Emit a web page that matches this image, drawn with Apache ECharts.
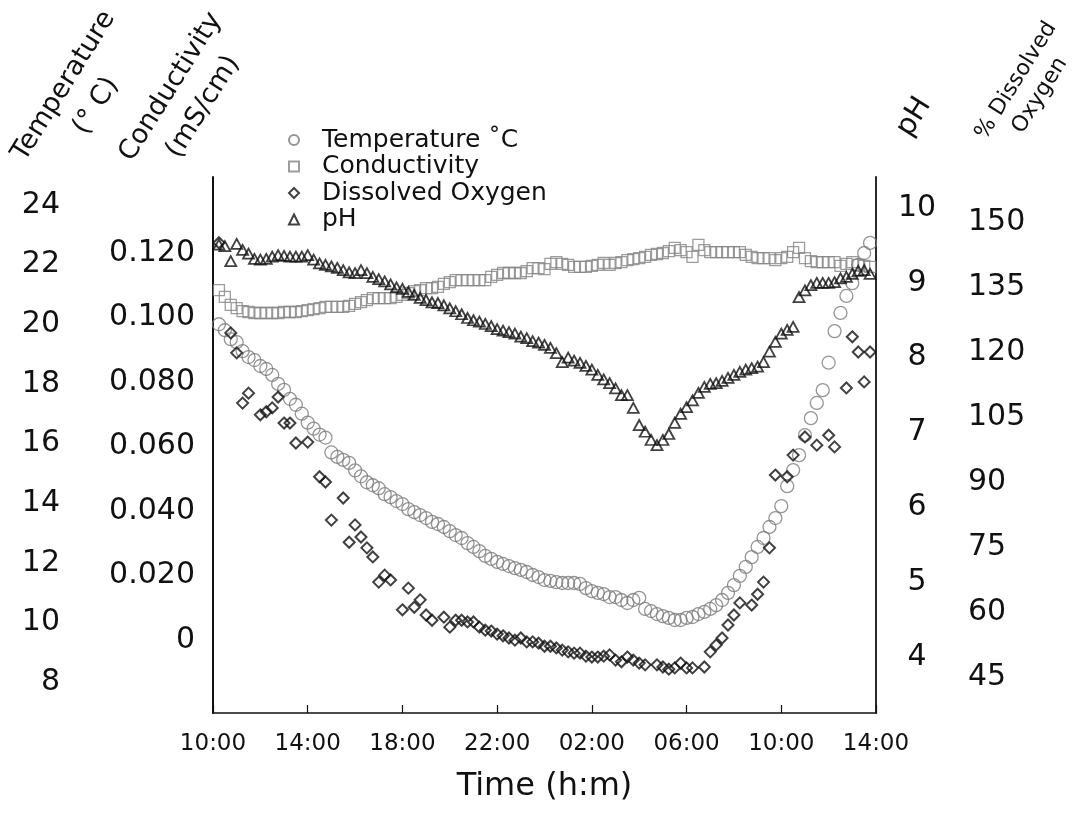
<!DOCTYPE html>
<html>
<head>
<meta charset="utf-8">
<script src="https://cdn.jsdelivr.net/npm/echarts@6/dist/echarts.min.js"></script>
<style>
html,body{margin:0;padding:0;background:#ffffff;}
#chart{width:1072px;height:818px;}
</style>
</head>
<body>
<div id="chart"></div>
<script>
// ---- data (hours after 10:00 on day 1) ----
const hours = [0.25,0.5,0.75,1,1.25,1.5,1.75,2,2.25,2.5,2.75,3,3.25,3.5,3.75,4,4.25,4.5,4.75,5,5.25,5.5,5.75,6,6.25,6.5,6.75,7,7.25,7.5,7.75,8,8.25,8.5,8.75,9,9.25,9.5,9.75,10,10.25,10.5,10.75,11,11.25,11.5,11.75,12,12.25,12.5,12.75,13,13.25,13.5,13.75,14,14.25,14.5,14.75,15,15.25,15.5,15.75,16,16.25,16.5,16.75,17,17.25,17.5,17.75,18,18.25,18.5,18.75,19,19.25,19.5,19.75,20,20.25,20.5,20.75,21,21.25,21.5,21.75,22,22.25,22.5,22.75,23,23.25,23.5,23.75,24,24.25,24.5,24.75,25,25.25,25.5,25.75,26,26.25,26.5,26.75,27,27.25,27.5,27.75];

const temperature = [
 20.0,19.8,19.5,19.4, 19.1,18.9,18.8,18.6, 18.5,18.3,18.0,17.8, 17.5,17.3,17.0,16.7,
 16.5,16.3,16.2,15.7, 15.55,15.45,15.35,15.1, 14.9,14.7,14.6,14.5, 14.3,14.2,14.07,13.97,
 13.8,13.7,13.6,13.5, 13.37,13.3,13.2,13.06, 12.93,12.83,12.66,12.53, 12.39,12.23,12.13,12.03,
 11.96,11.89,11.82,11.76, 11.69,11.59,11.52,11.42, 11.39,11.35,11.32,11.32, 11.32,11.29,11.15,11.05,
 10.99,10.95,10.85,10.85, 10.75,10.65,10.75,10.82, 10.45,10.38,10.28,10.21, 10.15,10.08,10.08,10.15,
 10.18,10.28,10.35,10.45, 10.58,10.75,10.99,11.25, 11.56,11.86,12.19,12.53, 12.83,13.2,13.5,13.9,
 14.57,15.11,15.61,16.28, 16.85,17.36,17.79,18.71, 19.77,20.38,20.95,21.38, 21.99,22.39,22.73
];

const conductivity = [
 0.1085,0.1064,0.1039,0.1029, 0.1020,0.1017,0.1014,0.1014, 0.1014,0.1014,0.1014,0.1017, 0.1017,0.1017,0.1020,0.1023,
 0.1026,0.1029,0.1033,0.1033, 0.1033,0.1033,0.1036,0.1042, 0.1048,0.1054,0.1060,0.1060, 0.1060,0.1060,0.1064,0.1070,
 0.1076,0.1082,0.1085,0.1091, 0.1091,0.1095,0.1104,0.1110, 0.1116,0.1116,0.1116,0.1116, 0.1116,0.1116,0.1126,0.1132,
 0.1138,0.1138,0.1138,0.1138, 0.1144,0.1153,0.1153,0.1150, 0.1166,0.1172,0.1166,0.1163, 0.1157,0.1157,0.1157,0.1160,
 0.1163,0.1169,0.1163,0.1169, 0.1172,0.1178,0.1181,0.1184, 0.1188,0.1194,0.1197,0.1200, 0.1206,0.1216,0.1209,0.1203,
 0.1188,0.1225,0.1209,0.1203, 0.1203,0.1203,0.1203,0.1203, 0.1203,0.1194,0.1188,0.1184, 0.1184,0.1184,0.1178,0.1184,
 0.1188,0.1203,0.1216,0.1184, 0.1175,0.1172,0.1172,0.1172, 0.1172,0.1160,0.1166,0.1172, 0.1163,0.1160,0.1157
];

const dissolvedOxygen = [
 145.2,null,124.4,119.8, 108.2,110.5,null,105.5, 106.2,107.1,109.6,103.6, 103.6,99.0,null,99.2,
 null,91.2,90.0,81.2, null,86.3,76.1,80.1, 77.3,74.8,72.7,66.9, 68.5,67.4,null,60.5,
 65.5,61.1,62.8,59.3, 58.1,null,58.8,56.5, 58.1,58.1,57.7,57.7, 56.5,55.8,55.6,54.9,
 54.5,54.0,53.5,54.0, 53.1,53.1,52.8,52.1, 52.1,51.7,51.2,50.8, 50.5,50.5,49.8,49.6,
 49.6,49.8,50.1,48.9, 48.5,49.6,48.9,48.2, 47.8,null,47.8,47.3, 46.8,47.1,48.2,47.1,
 47.1,null,47.3,50.8, 52.4,54.0,57.0,59.3, 62.1,null,61.6,64.1, 66.9,74.8,91.6,null,
 91.2,96.2,null,100.4, null,98.5,null,100.8, 98.1,null,111.7,123.5, 120.0,113.1,120.0
];

const pH = [
 9.51,9.49,9.29,9.52, 9.44,9.39,9.32,9.31, 9.32,9.35,9.37,9.36, 9.35,9.35,9.35,9.37,
 9.31,9.26,9.24,9.22, 9.20,9.17,9.14,9.13, 9.17,9.13,9.08,9.05, 9.02,8.98,8.94,8.92,
 8.88,8.84,8.80,8.77, 8.74,8.73,8.70,8.66, 8.62,8.58,8.53,8.50, 8.48,8.45,8.42,8.38,
 8.36,8.34,8.32,8.28, 8.26,8.22,8.20,8.17, 8.13,8.06,7.94,8.00, 7.96,7.93,7.89,7.84,
 7.77,7.71,7.66,7.59, 7.50,7.50,7.33,7.10, 7.01,6.90,6.83,6.90, 6.98,7.13,7.25,7.34,
 7.43,7.53,7.61,7.65, 7.66,7.69,7.73,7.77, 7.81,7.84,7.86,7.88, 7.94,8.08,8.21,8.32,
 8.37,8.41,8.81,8.90, 8.97,9.00,9.00,9.00, 9.01,9.06,9.08,9.12, 9.16,9.17,9.12
];

// ---- ticks ----
const xTickHours = [0,4,8,12,16,20,24,28];
const xTickLabels = ['10:00','14:00','18:00','22:00','02:00','06:00','10:00','14:00'];
const tempTicks = [8,10,12,14,16,18,20,22,24];
const condTicks = [0,0.02,0.04,0.06,0.08,0.1,0.12];
const pHTicks = [4,5,6,7,8,9,10];
const doTicks = [45,60,75,90,105,120,135,150];

const F = '"DejaVu Sans", "Liberation Sans", Arial, sans-serif';
const INK = '#111111';

function pairs(vals){
  const out = [];
  hours.forEach(function(h,i){ if (vals[i] != null) out.push([h, vals[i]]); });
  return out;
}

const chart = echarts.init(document.getElementById('chart'), null, {renderer:'canvas'});
const hiddenAxisPart = {axisTick:{show:false}, splitLine:{show:false}};

chart.setOption({
  animation:false,
  backgroundColor:'#ffffff',
  grid:{left:213, right:196, top:177, bottom:105, containLabel:false, outerBoundsMode:'none'},
  legend:{
    orient:'vertical', left:288, top:127, padding:0,
    itemWidth:10, itemHeight:10, itemGap:0.5,
    textStyle:{fontFamily:F, fontSize:25, color:INK, lineHeight:26, padding:[0,0,0,18]},
    data:['Temperature ˚C','Conductivity','Dissolved Oxygen','pH']
  },
  xAxis:{
    type:'value', min:0, max:28, interval:4,
    name:'Time (h:m)', nameLocation:'middle', nameGap:58,
    nameTextStyle:{fontFamily:F, fontSize:32, color:INK},
    axisLine:{onZero:false, lineStyle:{color:INK, width:1.6}},
    axisTick:{inside:true, length:8, lineStyle:{color:INK, width:1.2}},
    splitLine:{show:false},
    axisLabel:{margin:20, fontFamily:F, fontSize:23, color:INK,
      formatter:function(v){ const i = xTickHours.indexOf(v); return i >= 0 ? xTickLabels[i] : ''; }}
  },
  yAxis:[
    Object.assign({type:'value', position:'left', offset:0, min:6.96, max:24.94,
      axisLine:{show:true, onZero:false, lineStyle:{color:INK, width:2}},
      axisLabel:{customValues:tempTicks, margin:153, fontFamily:F, fontSize:30, color:INK}}, hiddenAxisPart),
    Object.assign({type:'value', position:'left', offset:0, min:-0.02264, max:0.14357,
      axisLine:{show:false, onZero:false},
      axisLabel:{customValues:condTicks, margin:18, fontFamily:F, fontSize:30, color:INK,
        formatter:function(v){ return v === 0 ? '0' : v.toFixed(3); }}}, hiddenAxisPart),
    Object.assign({type:'value', position:'right', offset:0, min:3.252, max:10.414,
      axisLine:{show:true, onZero:false, lineStyle:{color:INK, width:1.8}},
      axisLabel:{customValues:pHTicks, margin:41, align:'center', fontFamily:F, fontSize:30, color:INK}}, hiddenAxisPart),
    Object.assign({type:'value', position:'right', offset:0, min:36.69, max:160.38,
      axisLine:{show:false, onZero:false},
      axisLabel:{customValues:doTicks, margin:92, align:'left', fontFamily:F, fontSize:30, color:INK}}, hiddenAxisPart)
  ],
  series:[
    {name:'Temperature ˚C', type:'scatter', yAxisIndex:0, symbol:'circle', symbolSize:13,
      itemStyle:{color:'rgba(0,0,0,0)', borderColor:'#7a7a7a', borderWidth:1.3}, data:pairs(temperature)},
    {name:'Conductivity', type:'scatter', yAxisIndex:1, symbol:'rect', symbolSize:11,
      itemStyle:{color:'rgba(0,0,0,0)', borderColor:'#858585', borderWidth:1.3}, data:pairs(conductivity)},
    {name:'Dissolved Oxygen', type:'scatter', yAxisIndex:3, symbol:'diamond', symbolSize:11,
      itemStyle:{color:'rgba(0,0,0,0)', borderColor:INK, borderWidth:2}, data:pairs(dissolvedOxygen)},
    {name:'pH', type:'scatter', yAxisIndex:2, symbol:'triangle', symbolSize:[11,10],
      itemStyle:{color:'rgba(0,0,0,0)', borderColor:INK, borderWidth:1.8}, data:pairs(pH)}
  ],
  graphic:[
    {type:'text', x:80, y:96, rotation:58*Math.PI/180,
      style:{text:'Temperature\n(° C)', fontFamily:F, fontSize:27, lineHeight:38, fill:INK, align:'center', verticalAlign:'middle'}},
    {type:'text', x:187, y:97, rotation:58*Math.PI/180,
      style:{text:'Conductivity\n(mS/cm)', fontFamily:F, fontSize:27, lineHeight:38, fill:INK, align:'center', verticalAlign:'middle'}},
    {type:'text', x:914, y:117, rotation:58*Math.PI/180,
      style:{text:'pH', fontFamily:F, fontSize:29, fill:INK, align:'center', verticalAlign:'middle'}},
    {type:'text', x:1028, y:88, rotation:58*Math.PI/180,
      style:{text:'% Dissolved\nOxygen', fontFamily:F, fontSize:22, lineHeight:28, fill:INK, align:'center', verticalAlign:'middle'}}
  ]
});
</script>
</body>
</html>
